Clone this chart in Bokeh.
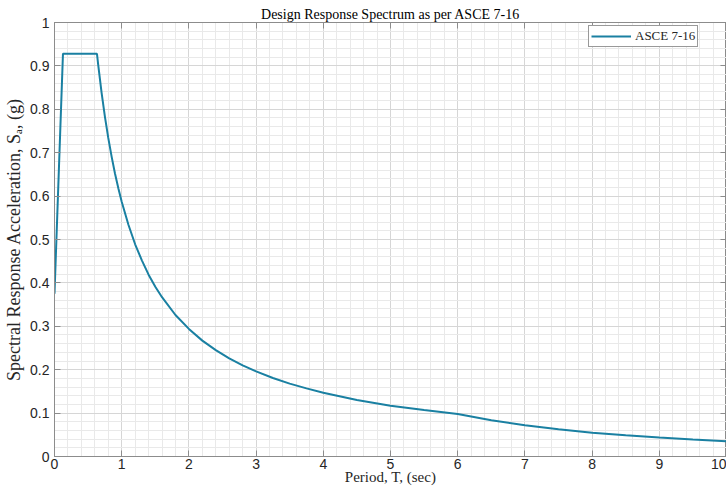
from bokeh.plotting import figure
from bokeh.models import (ColumnDataSource, LinearAxis, SingleIntervalTicker,
                          CustomJSTickFormatter, Range1d, Legend, LegendItem)
from bokeh.embed import file_html
from bokeh.resources import INLINE

# Period (sec) and spectral acceleration (g)
period = [0.0, 0.126, 0.632, 0.65, 0.7, 0.75, 0.8, 0.85, 0.9, 0.95, 1.0, 1.1, 1.2,
          1.3, 1.4, 1.5, 1.6, 1.8, 2.0, 2.2, 2.4, 2.6, 2.8, 3.0, 3.25, 3.5, 3.75,
          4.0, 4.5, 5.0, 5.5, 6.0, 6.5, 7.0, 7.5, 8.0, 8.5, 9.0, 9.5, 10.0]
sa = [0.375, 0.928, 0.928, 0.903, 0.839, 0.783, 0.734, 0.691, 0.652, 0.618, 0.587,
      0.534, 0.489, 0.452, 0.419, 0.391, 0.367, 0.326, 0.294, 0.267, 0.245, 0.226,
      0.210, 0.196, 0.181, 0.168, 0.157, 0.147, 0.130, 0.117, 0.107, 0.098, 0.0834,
      0.0719, 0.0626, 0.0550, 0.0487, 0.0435, 0.0390, 0.0352]
series_name = "ASCE 7-16"
title_text = "Design Response Spectrum as per ASCE 7-16"
x_label = "Period, T, (sec)"
y_label = "Spectral Response Acceleration, Sₐ, (g)"

SERIF = "Liberation Serif"
SANS = "Liberation Sans"
AXIS_COLOR = "#8c8c8c"
TEXT_COLOR = "#262626"

p = figure(width=726, height=493, output_backend="svg", toolbar_location=None,
           x_range=Range1d(0, 10), y_range=Range1d(0, 1),
           x_axis_location=None, y_axis_location=None,
           min_border_left=54, min_border_right=0, min_border_top=22,
           min_border_bottom=37)

p.title.text = title_text
p.title.text_font = SERIF
p.title.text_font_size = "14px"
p.title.text_font_style = "normal"
p.title.align = "center"
p.title.vertical_align = "middle"
p.title.text_color = "#000000"
p.title.standoff = 0
p.title.offset = 0

fmt = CustomJSTickFormatter(code="return String(Math.round(tick*10)/10);")

def make_axis(ticker, show_labels, label=None, label_size="13px",
              label_standoff=4, tick_standoff=2):
    ax = LinearAxis(ticker=ticker, formatter=fmt)
    ax.major_tick_in = 6
    ax.major_tick_out = 0
    ax.minor_tick_in = 0
    ax.minor_tick_out = 0
    ax.axis_line_color = AXIS_COLOR
    ax.major_tick_line_color = AXIS_COLOR
    if show_labels:
        ax.major_label_text_font = SANS
        ax.major_label_text_font_size = "14px"
        ax.major_label_text_color = TEXT_COLOR
        ax.major_label_standoff = tick_standoff
        if label:
            ax.axis_label = label
            ax.axis_label_text_font = SERIF
            ax.axis_label_text_font_size = label_size
            ax.axis_label_text_font_style = "normal"
            ax.axis_label_text_color = TEXT_COLOR
            ax.axis_label_standoff = label_standoff
    else:
        ax.major_label_text_font_size = "1px"
        ax.major_label_text_color = None
        ax.major_label_standoff = 0
    return ax

xt = SingleIntervalTicker(interval=1, num_minor_ticks=5)
yt = SingleIntervalTicker(interval=0.1, num_minor_ticks=5)

p.add_layout(make_axis(xt, True, x_label, "15px", -3, 2), "below")
p.add_layout(make_axis(yt, True, y_label, "18px", 3, 5), "left")
p.add_layout(make_axis(xt, False), "above")
p.add_layout(make_axis(yt, False), "right")

p.xgrid.ticker = xt
p.ygrid.ticker = yt
for g in (p.xgrid, p.ygrid):
    g.grid_line_color = "#d6d6d6"
    g.minor_grid_line_color = "#e9e9e9"
    g.grid_line_width = 1
    g.minor_grid_line_width = 1

p.outline_line_color = AXIS_COLOR

src = ColumnDataSource(dict(x=period, y=sa))
r = p.line("x", "y", source=src, line_color="#1a80a2", line_width=2)

leg = Legend(items=[LegendItem(label=series_name, renderers=[r])],
             location=(534, 409))
leg.label_text_font = SERIF
leg.label_text_font_size = "13px"
leg.label_text_color = TEXT_COLOR
leg.border_line_color = "#333333"
leg.border_line_width = 1
leg.padding = 2
leg.margin = 0
leg.glyph_width = 40
leg.glyph_height = 12
leg.label_standoff = 4
leg.label_height = 12
leg.background_fill_alpha = 1.0
p.add_layout(leg, "center")

open("out.html", "w").write(file_html(p, INLINE))
